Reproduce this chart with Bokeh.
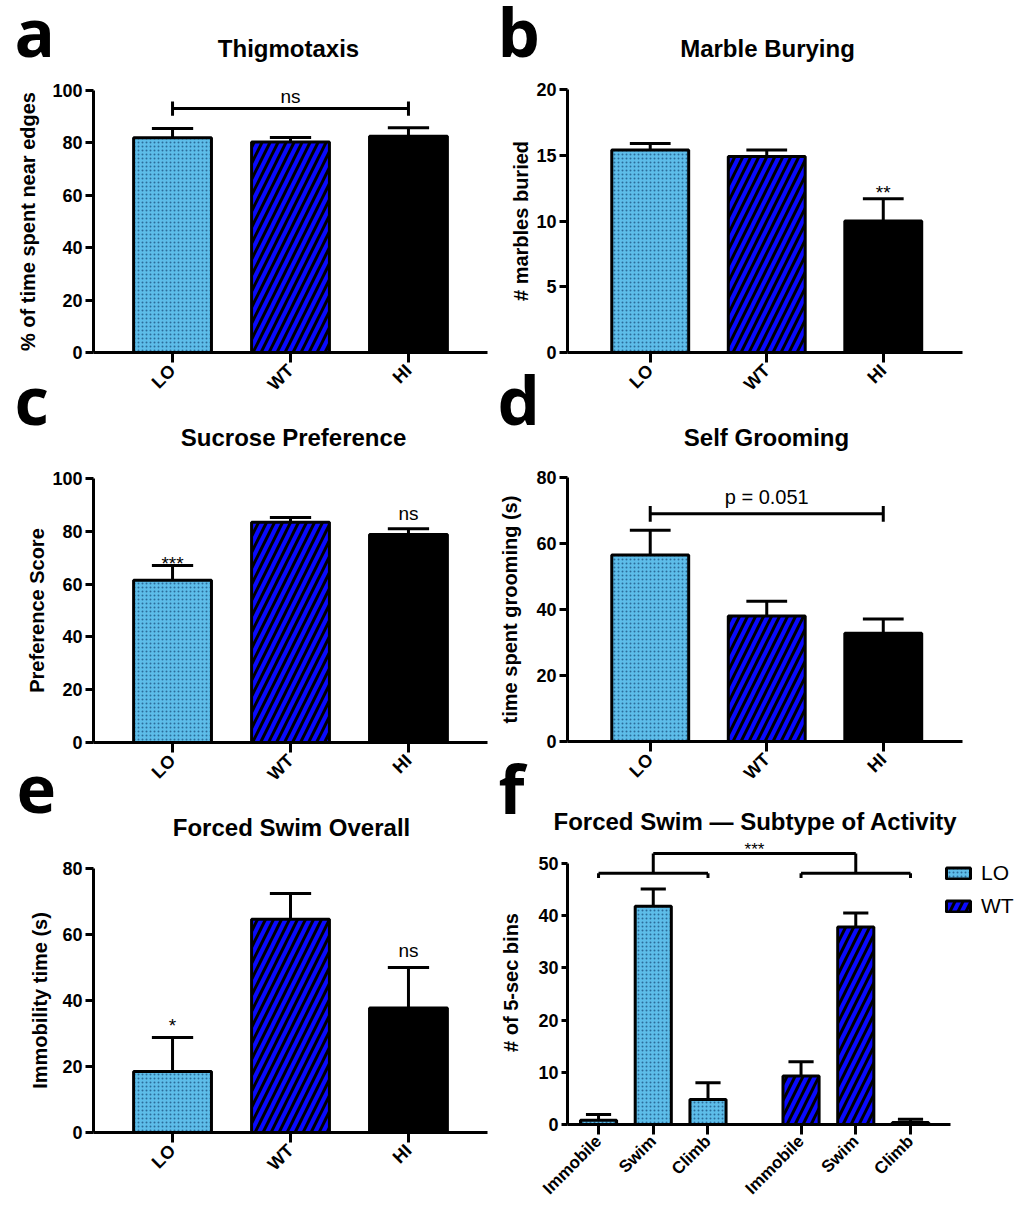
import math
from bokeh.plotting import figure
from bokeh.layouts import row, column
from bokeh.models import FixedTicker, Legend, LegendItem, Range1d, GridBox
from bokeh.embed import file_html
from bokeh.resources import INLINE
from bokeh.core.properties import value

# ---------------- data ----------------
groups = ["LO", "WT", "HI"]
thig_mean = [82.0, 80.3, 82.5]
thig_err = [3.5, 1.8, 3.3]
marble_mean = [15.4, 14.9, 10.0]
marble_err = [0.5, 0.5, 1.7]
sucrose_mean = [61.5, 83.4, 78.8]
sucrose_err = [5.5, 1.8, 2.2]
groom_mean = [56.5, 38.0, 32.8]
groom_err = [7.5, 4.5, 4.3]
swim_mean = [18.5, 64.6, 37.7]
swim_err = [10.3, 7.8, 12.3]
activities = ["Immobile", "Swim", "Climb"]
sub_groups = ["LO", "WT"]
sub_lo_mean = [0.8, 41.8, 4.8]
sub_lo_err = [1.1, 3.3, 3.2]
sub_wt_mean = [9.3, 37.8, 0.4]
sub_wt_err = [2.7, 2.7, 0.6]

panel_letters = ["a", "b", "c", "d", "e", "f"]
panel_titles = ["Thigmotaxis", "Marble Burying", "Sucrose Preference",
                "Self Grooming", "Forced Swim Overall",
                "Forced Swim \u2014 Subtype of Activity"]

FONT = "Liberation Sans"
LETTER_FONT = "Open Sans"
PAGE_W, PAGE_H = 1028, 1207
COL_X = 496
ROW1, ROW2 = 405, 800
TXT_SHIFT = 6      # px: lift of Liberation Sans text baselines
LETTER_SHIFT = 27  # px: lift of the big panel letters

STYLE = {
    "LO": dict(fill_color="#5dbde9", hatch_pattern="dot", hatch_color="#2b6c9a",
               hatch_scale=4, hatch_weight=1.2),
    "WT": dict(fill_color="#0a0aff", hatch_pattern="/", hatch_color="black",
               hatch_scale=16, hatch_weight=3),
    "HI": dict(fill_color="black"),
}


class Panel:
    def __init__(self, origin, size, frame, xr, yr):
        ox, oy = origin
        w, h = size
        l, t, r, b = frame
        self.upp = (yr[1] - yr[0]) / (b - t)   # data units per pixel (y)
        p = figure(width=w, height=h, x_range=Range1d(*xr), y_range=Range1d(*yr),
                   output_backend="svg", toolbar_location=None,
                   min_border_left=l - ox, min_border_right=ox + w - r,
                   min_border_top=t - oy, min_border_bottom=oy + h - b)
        p.outline_line_color = None
        p.xgrid.visible = False
        p.ygrid.visible = False
        self.p = p

    def axes(self, yticks, ylabel, xticks, xlabels, xfont=18, ystandoff=8, ytick=8):
        p = self.p
        for ax in (p.xaxis[0], p.yaxis[0]):
            ax.axis_line_width = 3
            ax.axis_line_color = "black"
            ax.major_tick_line_width = 3
            ax.major_tick_line_color = "black"
            ax.minor_tick_line_color = None
            ax.major_tick_in = 0
            ax.major_label_text_font = FONT
            ax.major_label_text_font_style = "bold"
            ax.major_label_text_color = "black"
        y = p.yaxis[0]
        y.major_label_text_font_size = "18px"
        y.major_tick_out = ytick
        y.major_label_standoff = 3
        y.ticker = FixedTicker(ticks=yticks)
        y.axis_label = ylabel
        y.axis_label_text_font = FONT
        y.axis_label_text_font_style = "bold"
        y.axis_label_text_font_size = "20px"
        y.axis_label_text_color = "black"
        y.axis_label_standoff = ystandoff
        x = p.xaxis[0]
        x.major_tick_out = 10
        x.major_label_standoff = 5
        x.ticker = FixedTicker(ticks=xticks)
        x.major_label_overrides = {t: s for t, s in zip(xticks, xlabels)}
        x.major_label_orientation = math.pi / 4
        x.major_label_text_font_size = f"{xfont}px"

    def bars(self, xs, means, errs, style_keys, width, cap):
        p = self.p
        rends = []
        for x, m, k in zip(xs, means, style_keys):
            rends.append(p.vbar(x=[x], top=[m], bottom=0, width=width,
                                line_color="black", line_width=3, **STYLE[k]))
        tops = [m + e for m, e in zip(means, errs)]
        p.segment(x0=xs, y0=means, x1=xs, y1=tops, line_color="black", line_width=3)
        p.segment(x0=[x - cap / 2 for x in xs], y0=tops, x1=[x + cap / 2 for x in xs],
                  y1=tops, line_color="black", line_width=3)
        return rends, tops

    def stat(self, x, y, text, size, px_above=0):
        # y: data value the text sits on; px_above: extra gap in pixels
        yy = y + (px_above + TXT_SHIFT) * self.upp
        self.p.text(x=[x], y=[yy], text=[text], text_font=value(FONT),
                    text_font_size=f"{size}px", text_align="center",
                    text_baseline="alphabetic", text_color="black")

    def bracket(self, x0, x1, y, cap):
        self.p.segment(x0=[x0, x0, x1], y0=[y, y - cap, y - cap], x1=[x1, x0, x1],
                       y1=[y, y + cap, y + cap], line_color="black", line_width=3)


XS = list(range(len(groups)))
PADL, PADR = 0.67, 0.67
BW = 0.66
CAP = 0.35
LEFT_W = COL_X
RIGHT_W = PAGE_W - COL_X

# ---------------- panel a ----------------
A = Panel((0, 0), (LEFT_W, ROW1), (93, 90, 487, 352), (-PADL, 2 + PADR), (0, 100))
A.axes(list(range(0, 101, 20)), "% of time spent near edges", XS, groups, ystandoff=10)
A.bars(XS, thig_mean, thig_err, groups, BW, CAP)
A.bracket(0, 2, 93.1, 2.7)
A.stat(1, 93.1, "ns", 19, px_above=6)

# ---------------- panel b ----------------
B = Panel((COL_X, 0), (RIGHT_W, ROW1), (567, 89, 962, 352), (-0.71, 2.68), (0, 20))
B.axes(list(range(0, 21, 5)), "# marbles buried", XS, groups, ystandoff=1)
_, tb = B.bars(XS, marble_mean, marble_err, groups, BW, CAP)
B.stat(2, tb[2], "**", 19, px_above=0)

# ---------------- panel c ----------------
C = Panel((0, ROW1), (LEFT_W, ROW2 - ROW1), (93, 478, 487, 742), (-PADL, 2 + PADR), (0, 100))
C.axes(list(range(0, 101, 20)), "Preference Score", XS, groups, ystandoff=1)
_, tc = C.bars(XS, sucrose_mean, sucrose_err, groups, BW, CAP)
C.stat(0, tc[0], "***", 19, px_above=-4)
C.stat(2, tc[2], "ns", 19, px_above=9)

# ---------------- panel d ----------------
D = Panel((COL_X, ROW1), (RIGHT_W, ROW2 - ROW1), (567, 477, 962, 741), (-0.71, 2.68), (0, 80))
D.axes(list(range(0, 81, 20)), "time spent grooming (s)", XS, groups, ystandoff=12)
D.bars(XS, groom_mean, groom_err, groups, BW, CAP)
D.bracket(0, 2, 69.0, 2.4)
D.stat(1, 69.0, "p = 0.051", 20, px_above=11)

# ---------------- panel e ----------------
E = Panel((0, ROW2), (LEFT_W, PAGE_H - ROW2), (93, 868, 487, 1132), (-PADL, 2 + PADR), (0, 80))
E.axes(list(range(0, 81, 20)), "Immobility time (s)", XS, groups, ystandoff=8)
_, te = E.bars(XS, swim_mean, swim_err, groups, BW, CAP)
E.stat(0, te[0], "*", 19, px_above=6)
E.stat(2, te[2], "ns", 19, px_above=11)

# ---------------- panel f ----------------
GAP = 0.7
lo_x = [0, 1, 2]
wt_x = [i + 3 + GAP for i in range(3)]
F = Panel((COL_X, ROW2), (RIGHT_W, PAGE_H - ROW2), (567, 840, 962, 1126), (-0.567, 6.65), (0, 54.37))
F.axes(list(range(0, 51, 10)), "# of 5-sec bins", lo_x + wt_x, activities + activities,
       xfont=17, ystandoff=13, ytick=6)
F.p.xaxis[0].major_label_standoff = 4
F.p.yaxis[0].bounds = (0, 50)
F.p.xaxis[0].bounds = (-0.567, 6.43)
r_lo, t_lo = F.bars(lo_x, sub_lo_mean, sub_lo_err, ["LO"] * 3, 0.66, 0.46)
r_wt, t_wt = F.bars(wt_x, sub_wt_mean, sub_wt_err, ["WT"] * 3, 0.66, 0.46)
ylow, yhigh = 48.1, 51.9
mid_lo = lo_x[1]
mid_wt = wt_x[1]
F.p.segment(x0=[lo_x[0], lo_x[0], lo_x[2], wt_x[0], wt_x[0], wt_x[2], mid_lo, mid_wt, mid_lo],
            y0=[ylow] * 8 + [yhigh],
            x1=[lo_x[2], lo_x[0], lo_x[2], wt_x[2], wt_x[0], wt_x[2], mid_lo, mid_wt, mid_wt],
            y1=[ylow, ylow - 0.9, ylow - 0.9, ylow, ylow - 0.9, ylow - 0.9, yhigh, yhigh, yhigh],
            line_color="black", line_width=3)
F.stat((mid_lo + mid_wt) / 2, yhigh, "***", 17, px_above=-2)

panels = row(column(A.p, C.p, E.p), column(B.p, D.p, F.p))

# ---------------- overlay: panel letters, titles, legend of f ----------------
ov = figure(width=PAGE_W, height=PAGE_H, x_range=Range1d(0, PAGE_W),
            y_range=Range1d(PAGE_H, 0), output_backend="svg", toolbar_location=None,
            x_axis_type=None, y_axis_type=None, min_border=0)
ov.outline_line_color = None
ov.grid.visible = False
ov.background_fill_alpha = 0
ov.border_fill_alpha = 0
letter_pos = [(14, 57), (497, 57), (14, 425), (497, 425), (16, 816), (498, 814)]
title_pos = [(288, 54), (767, 54), (293, 443), (766, 443), (291, 833), (755, 827)]
for (lx, ly), letter in zip(letter_pos, panel_letters):
    ov.text(x=[lx], y=[ly - LETTER_SHIFT], text=[letter], text_font=value(LETTER_FONT),
            text_font_size="67px", text_font_style="bold", text_align="left",
            text_baseline="alphabetic", text_color="black")
for (tx, ty), title in zip(title_pos, panel_titles):
    ov.text(x=[tx], y=[ty - TXT_SHIFT], text=[title], text_font=value(FONT),
            text_font_size="24px", text_font_style="bold", text_align="center",
            text_baseline="alphabetic", text_color="black")
# legend swatches: hidden renderers carrying the LO / WT styles of panel f
leg_rends = []
for g in sub_groups:
    r = ov.vbar(x=[0], top=[1], bottom=[0], width=1, line_color="black", line_width=3,
                **STYLE[g])
    r.visible = False
    leg_rends.append(r)
legend = Legend(items=[LegendItem(label=g, renderers=[r]) for g, r in zip(sub_groups, leg_rends)],
                location=(943, PAGE_H - 918))
legend.label_text_font = FONT
legend.label_text_font_size = "21px"
legend.label_text_color = "black"
legend.glyph_width = 30
legend.glyph_height = 14
legend.spacing = 9
legend.padding = 0
legend.margin = 0
legend.label_standoff = 8
legend.border_line_color = None
legend.background_fill_alpha = 0
legend.inactive_fill_alpha = 0
ov.add_layout(legend)

layout = GridBox(children=[(panels, 0, 0), (ov, 0, 0)])
open("out.html", "w").write(file_html(layout, INLINE))
